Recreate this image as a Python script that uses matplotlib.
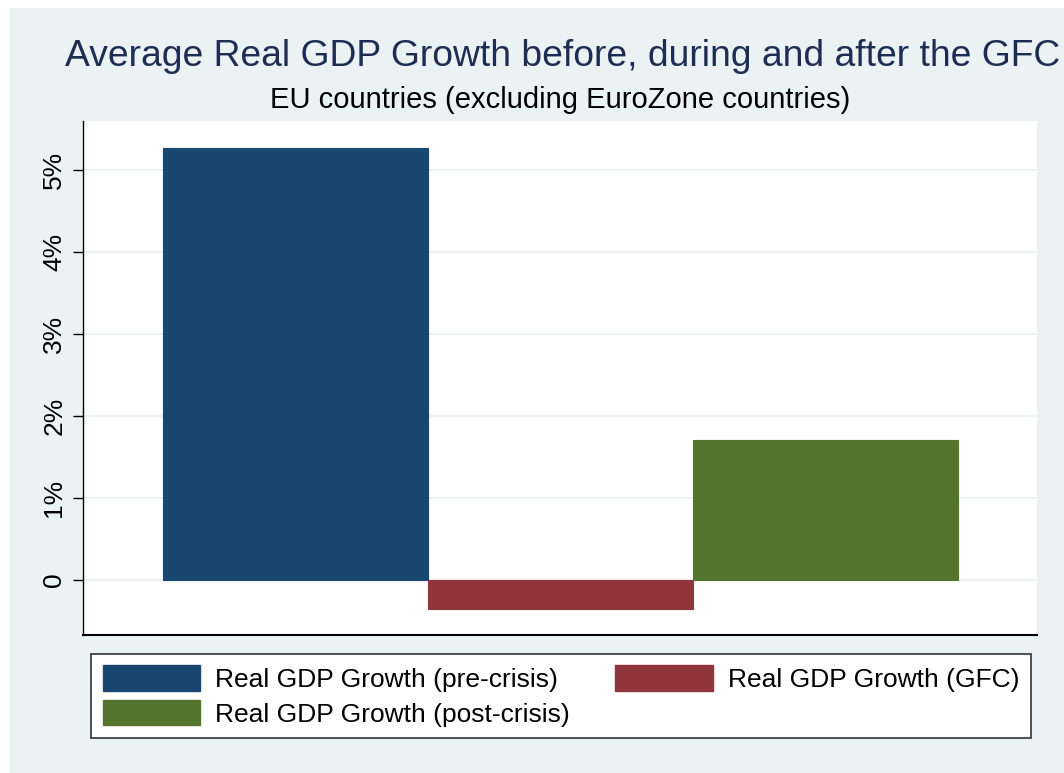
import matplotlib.pyplot as plt
from matplotlib.patches import Rectangle, Patch

plt.rcParams['font.family'] = ['Liberation Sans', 'DejaVu Sans']

# average real GDP growth (%), EU non-eurozone
periods = ['Real GDP Growth (pre-crisis)', 'Real GDP Growth (GFC)', 'Real GDP Growth (post-crisis)']
growth = [5.27, -0.35, 1.71]
colors = ['#1a476f', '#90353b', '#55752f']
yticks = [0, 1, 2, 3, 4, 5]
ytick_labels = ['0', '1%', '2%', '3%', '4%', '5%']

bg = '#eaf2f3'

fig = plt.figure(figsize=(10.64, 7.73), dpi=100, facecolor='white')
fig.patches.append(Rectangle((10 / 1064, 0), 1, 1 - 8 / 773, transform=fig.transFigure,
                             facecolor=bg, edgecolor='none', zorder=-10))

ax = fig.add_axes([83 / 1064, 138 / 773, 954 / 1064, 514 / 773])
ax.set_facecolor('white')

x = list(range(len(growth)))
bars = ax.bar(x, growth, width=1.0, color=colors, edgecolor=colors, linewidth=0.8, zorder=3)

ax.set_xlim(-0.802, 2.798)
ax.set_ylim(-0.67, 5.6)
ax.set_yticks(yticks)
ax.set_yticklabels(ytick_labels, rotation=90, va='center', fontsize=19)
ax.set_xticks([])
ax.yaxis.grid(True, color=bg, linewidth=1.5, zorder=0)
ax.tick_params(axis='y', direction='out', length=7, width=1, pad=5)

for s in ['top', 'right']:
    ax.spines[s].set_visible(False)
ax.spines['left'].set_linewidth(1)
ax.spines['bottom'].set_linewidth(1.5)

fig.text(0.529, 0.927, 'Average Real GDP Growth before, during and after the GFC',
         ha='center', va='center', fontsize=26.8, color='#1e2d53')
fig.text(0.526, 0.870, 'EU countries (excluding EuroZone countries)',
         ha='center', va='center', fontsize=21, color='black')

# legend order: column-wise fill, pre / post in column one, GFC in column two
order = [0, 2, 1]
handles = [Patch(facecolor=colors[i], edgecolor=colors[i]) for i in order]
labels = [periods[i] for i in order]
leg = fig.legend(handles, labels, ncol=2, loc='center',
                 bbox_to_anchor=(561 / 1064, 1 - 696 / 773),
                 fontsize=19, frameon=True, fancybox=False, edgecolor='#333333',
                 framealpha=1, facecolor='white',
                 handlelength=3.7, handleheight=1.1, columnspacing=1.7,
                 handletextpad=0.57, borderpad=0.45, labelspacing=0.3)
leg.get_frame().set_linewidth(1.2)

fig.savefig('out.png', dpi=100, facecolor=fig.get_facecolor())
